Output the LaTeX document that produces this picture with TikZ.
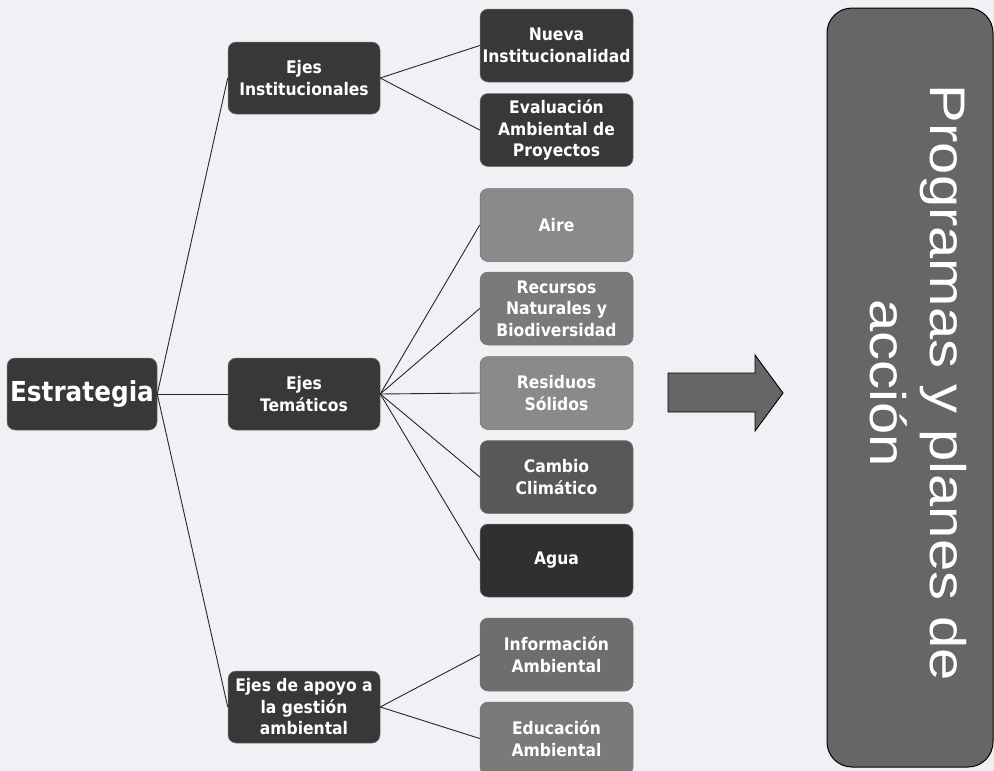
\documentclass[tikz,border=0pt]{standalone}
\usepackage{fontspec}
\usepackage{tikz}
\usetikzlibrary{positioning}
\setmainfont{DejaVu Sans}[FakeStretch=0.9]
\newfontfamily\titlefont{Liberation Sans}[FakeStretch=1.16]

\definecolor{paper}{RGB}{239,241,244}
\definecolor{darkbox}{RGB}{56,56,56}
\definecolor{aguabox}{RGB}{48,48,48}
\definecolor{cambiobox}{RGB}{88,88,88}
\definecolor{infobox}{RGB}{110,110,110}
\definecolor{midbox}{RGB}{122,122,122}
\definecolor{lightbox}{RGB}{138,138,138}
\definecolor{bigbox}{RGB}{102,102,102}

\begin{document}
\begin{tikzpicture}[x=1pt, y=-1pt,
    box/.style={draw=black!55, line width=0.5pt, rounded corners=8pt, text=white,
        font=\bfseries\fontsize{17.3}{21.5}\selectfont, align=center,
        minimum width=153pt, minimum height=73pt, inner sep=2pt},
    axis/.style={box, minimum width=152pt, minimum height=72pt},
    link/.style={black!85, line width=0.9pt}]

    % Background
    \fill[paper] (0,0) rectangle (994,771);
    \useasboundingbox (0,0) rectangle (994,771);

    % Root and axes
    \node[axis, fill=darkbox, minimum width=150pt,
        font=\bfseries\fontsize{27.5}{32}\selectfont] (estr) at (82,394) {Estrategia};
    \node[axis, fill=darkbox] (inst) at (304,78) {Ejes\\Institucionales};
    \node[axis, fill=darkbox] (tema) at (304,394) {Ejes\\Temáticos};
    \node[axis, fill=darkbox] (apoyo) at (304,707) {Ejes de apoyo a\\la gestión\\ambiental};

    % Institutional branch
    \node[box, fill=darkbox] (nueva) at (556.5,45.5) {Nueva\\Institucionalidad};
    \node[box, fill=darkbox] (evalua) at (556.5,130) {Evaluación\\Ambiental de\\Proyectos};

    % Thematic branch
    \node[box, fill=lightbox] (aire) at (556.5,225) {Aire};
    \node[box, fill=midbox] (recursos) at (556.5,308.5) {Recursos\\Naturales y\\Biodiversidad};
    \node[box, fill=lightbox] (residuos) at (556.5,393) {Residuos\\Sólidos};
    \node[box, fill=cambiobox] (cambio) at (556.5,477) {Cambio\\Climático};
    \node[box, fill=aguabox] (agua) at (556.5,560.5) {Agua};

    % Support branch
    \node[box, fill=infobox] (info) at (556.5,654.5) {Información\\Ambiental};
    \node[box, fill=midbox] (educa) at (556.5,738.5) {Educación\\Ambiental};

    % Connectors
    \foreach \a in {inst,tema,apoyo} {
        \draw[link] (estr.east) -- (\a.west);
    }
    \foreach \b in {nueva,evalua} {
        \draw[link] (inst.east) -- (\b.west);
    }
    \foreach \b in {aire,recursos,residuos,cambio,agua} {
        \draw[link] (tema.east) -- (\b.west);
    }
    \foreach \b in {info,educa} {
        \draw[link] (apoyo.east) -- (\b.west);
    }

    % Block arrow
    \draw[fill=bigbox, draw=black, line width=0.9pt]
        (668,373) -- (755,373) -- (755,355) -- (783,393)
        -- (755,431) -- (755,412) -- (668,412) -- cycle;

    % Programmes box
    \node[draw=black, line width=1pt, fill=bigbox, rounded corners=25pt,
        minimum width=166pt, minimum height=759pt] (prog) at (910,387.5) {};
    \node[rotate=-90, text=white, align=center, inner sep=0pt,
        font=\titlefont\fontsize{50}{60}\selectfont] (progtxt) at (918,383)
        {Programas y planes de\\acción};
\end{tikzpicture}
\end{document}
